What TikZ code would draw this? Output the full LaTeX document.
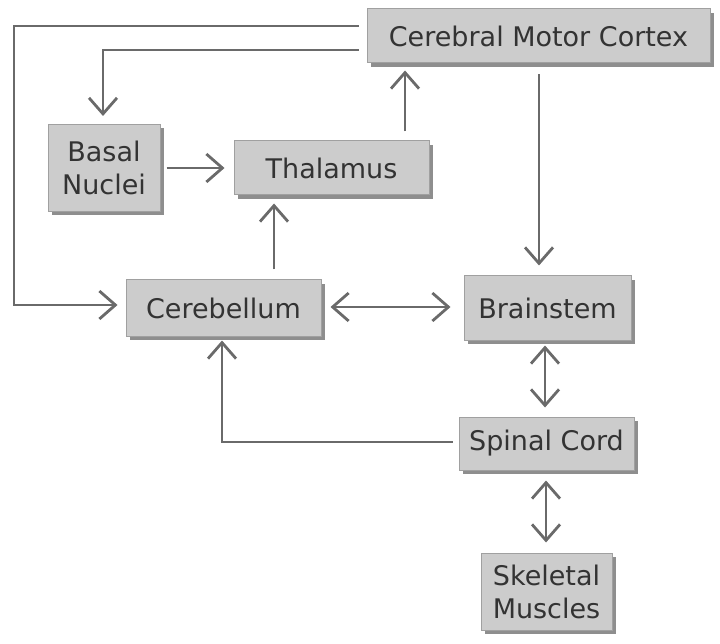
\documentclass[tikz,border=0pt]{standalone}
\usepackage{fontspec}
\setmainfont{DejaVu Sans}
\usetikzlibrary{arrows.meta,shadows,calc}
\definecolor{boxfill}{HTML}{CCCCCC}
\definecolor{boxline}{HTML}{A0A0A0}
\definecolor{boxshadow}{HTML}{8E8E8E}
\definecolor{txt}{HTML}{333333}
\definecolor{conn}{HTML}{6A6A6A}
\tikzset{
  blk/.style={draw=boxline, line width=1pt, fill=boxfill, text=txt,
    font=\fontsize{27}{33}\selectfont, align=center, inner sep=0pt,
    drop shadow={shadow xshift=3.5pt, shadow yshift=-4pt, fill=boxshadow, opacity=1}},
  link/.style={draw=conn, line width=2.8pt,
    -{Straight Barb[length=16pt,width=28pt,line width=2.8pt]},
    shorten <=8pt, shorten >=8pt},
  dlink/.style={link, {Straight Barb[length=16pt,width=28pt,line width=2.8pt]}-{Straight Barb[length=16pt,width=28pt,line width=2.8pt]}}
}
\begin{document}
\begin{tikzpicture}[x=1pt,y=-1pt]
\useasboundingbox (0,0) rectangle (720,644);
\node[blk, minimum width=343pt, minimum height=54pt] (cortex) at (538.5,36) {Cerebral Motor Cortex};
\node[blk, minimum width=112pt, minimum height=87pt] (basal) at (104,168) {Basal\\Nuclei};
\node[blk, minimum width=195pt, minimum height=54pt] (thal) at (331.5,168) {Thalamus};
\node[blk, minimum width=195pt, minimum height=56pt] (cereb) at (223.5,308) {Cerebellum};
\node[blk, minimum width=167pt, minimum height=64pt] (brain) at (547.5,308) {Brainstem};
\node[blk, minimum width=175pt, minimum height=53pt] (spinal) at (546.5,443.5) {Spinal Cord};
\node[blk, minimum width=131pt, minimum height=77pt] (skel) at (546.5,591.5) {Skeletal\\Muscles};

\coordinate (ltop) at (14,26);
\coordinate (lbot) at (14,305);
\coordinate (btop) at (103,50);
\coordinate (xthal) at (405,0);
\coordinate (xcer) at (274,0);
\coordinate (xbs) at (539,0);
\coordinate (xbs2) at (545,0);
\coordinate (xsk) at (546,0);
\coordinate (ymid) at (0,307);
\coordinate (sc) at (222,442);

\draw[link] (cortex.west |- ltop) -- (ltop) -- (lbot) -- (cereb.west |- lbot);
\draw[link] (cortex.west |- btop) -- (btop) -- (basal.north -| btop);
\draw[link, shorten <=6pt, shorten >=9pt] (basal.east) -- (thal.west);
\draw[link, shorten <=9pt, shorten >=7pt] (thal.north -| xthal) -- (cortex.south -| xthal);
\draw[link, shorten <=10pt, shorten >=8pt] (cereb.north -| xcer) -- (thal.south -| xcer);
\draw[link, shorten <=11pt, shorten >=10pt] (cortex.south -| xbs) -- (brain.north -| xbs);
\draw[dlink, shorten <=9pt, shorten >=13pt] (cereb.east |- ymid) -- (brain.west |- ymid);
\draw[dlink, shorten <=5pt, shorten >=9pt] (brain.south -| xbs2) -- (spinal.north -| xbs2);
\draw[link, shorten <=6pt, shorten >=4pt] (spinal.west |- sc) -- (sc) -- (cereb.south -| sc);
\draw[dlink, shorten <=10pt, shorten >=10pt] (spinal.south -| xsk) -- (skel.north -| xsk);
\end{tikzpicture}
\end{document}
